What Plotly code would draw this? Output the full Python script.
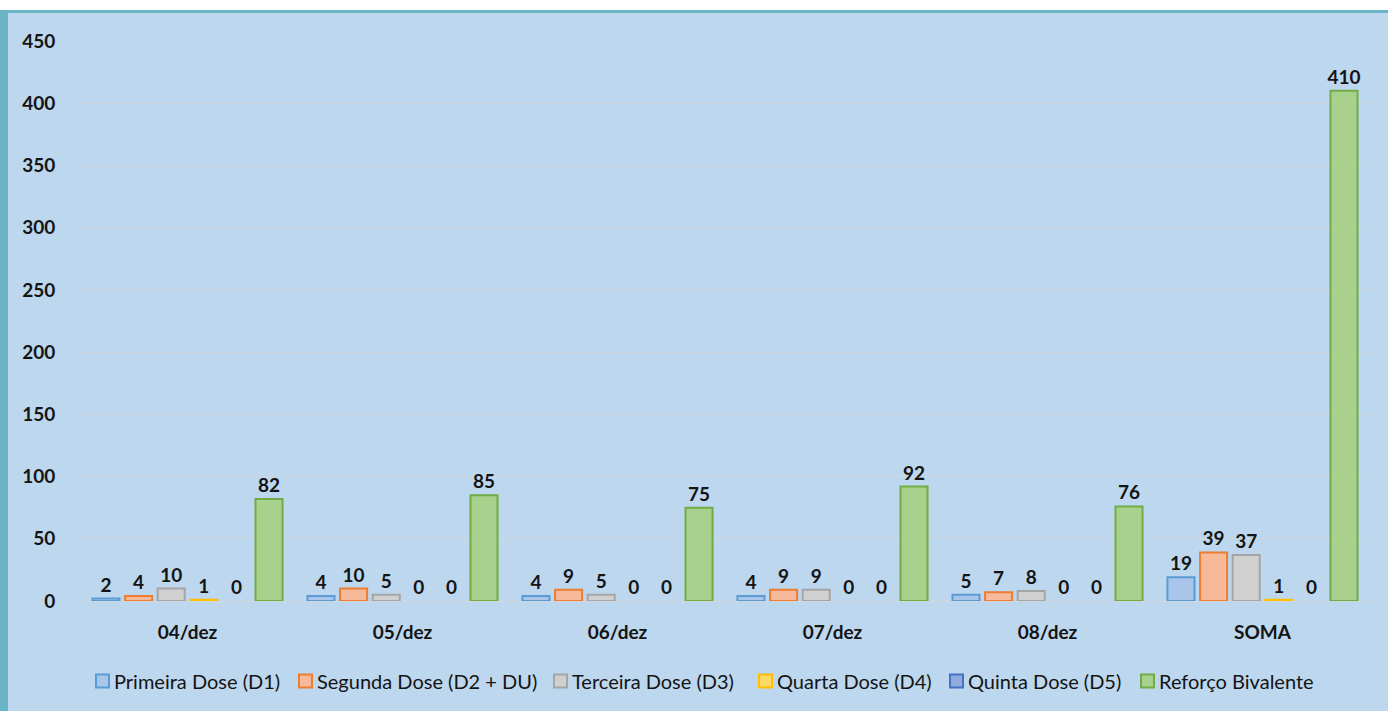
import plotly.graph_objects as go

categories = ["04/dez", "05/dez", "06/dez", "07/dez", "08/dez", "SOMA"]
series_names = ["Primeira Dose (D1)", "Segunda Dose (D2 + DU)", "Terceira Dose (D3)",
                "Quarta Dose (D4)", "Quinta Dose (D5)", "Reforço Bivalente"]
d1 = [2, 4, 4, 4, 5, 19]
d2 = [4, 10, 9, 9, 7, 39]
d3 = [10, 5, 5, 9, 8, 37]
d4 = [1, 0, 0, 0, 0, 1]
d5 = [0, 0, 0, 0, 0, 0]
bivalente = [82, 85, 75, 92, 76, 410]
y_ticks = [0, 50, 100, 150, 200, 250, 300, 350, 400, 450]

series_values = [d1, d2, d3, d4, d5, bivalente]
fills = ["#A9C6EA", "#F6B99A", "#D0D0D0", "#FFD966", "#8FAADC", "#A9D18E"]
lines = ["#5B9BD5", "#ED7D31", "#A5A5A5", "#FFC000", "#4472C4", "#70AD47"]

FONT = "Lato"
TXT = "#141414"
fig = go.Figure()
for name, vals, fc, lc in zip(series_names, series_values, fills, lines):
    fig.add_trace(go.Bar(
        x=categories, y=vals, name=name,
        marker=dict(color=fc, line=dict(color=lc, width=[2 if v > 0 else 0 for v in vals])),
        text=[str(v) for v in vals], textposition="outside", constraintext="none",
        textfont=dict(family=FONT, size=19, color=TXT, weight="bold"),
        cliponaxis=False, showlegend=False,
    ))

W, H = 1388, 711
ml, mr, mt, mb = 80, 18, 41, 110
pw, ph = W - ml - mr, H - mt - mb


def px_x(p):
    return (p - ml) / pw


def px_y(p):
    return (H - mb - p) / ph


teal = "#69B4C5"
shapes = [
    dict(type="rect", xref="paper", yref="paper", x0=px_x(-2), x1=px_x(W + 2), y0=px_y(10), y1=px_y(-2),
         fillcolor="white", line=dict(width=0), layer="above"),
    dict(type="rect", xref="paper", yref="paper", x0=px_x(-2), x1=px_x(W + 2), y0=px_y(13), y1=px_y(10),
         fillcolor=teal, line=dict(width=0), layer="above"),
    dict(type="rect", xref="paper", yref="paper", x0=px_x(-2), x1=px_x(8), y0=px_y(H + 2), y1=px_y(10),
         fillcolor=teal, line=dict(width=0), layer="above"),
]

# custom legend (layout positions in pixels)
legend_marker_x = [96, 299, 554, 759, 950, 1141]
legend_y = 681
msz = 13
annotations = []
for name, fc, lc, lx in zip(series_names, fills, lines, legend_marker_x):
    shapes.append(dict(type="rect", xref="paper", yref="paper",
                       x0=px_x(lx), x1=px_x(lx + msz),
                       y0=px_y(legend_y + msz / 2), y1=px_y(legend_y - msz / 2),
                       fillcolor=fc, line=dict(color=lc, width=2)))
    annotations.append(dict(xref="paper", yref="paper", x=px_x(lx + msz + 3), y=px_y(legend_y),
                            xanchor="left", yanchor="middle", showarrow=False, text=name,
                            font=dict(family=FONT, size=20, color=TXT)))

fig.update_layout(
    width=W, height=H,
    margin=dict(l=ml, r=mr, t=mt, b=mb),
    paper_bgcolor="#BDD7EE", plot_bgcolor="#BDD7EE",
    barmode="group", bargap=0.09, bargroupgap=0.17,
    font=dict(family=FONT, size=17, color=TXT),
    showlegend=False, hovermode=False,
    shapes=shapes, annotations=annotations,
    xaxis=dict(showgrid=False, showline=True, linecolor="#D0D6DC", linewidth=1,
               ticks="outside", ticklen=14, tickcolor="rgba(0,0,0,0)",
               tickfont=dict(family=FONT, size=19, color=TXT, weight="bold")),
    yaxis=dict(range=[0, 450], tickvals=y_ticks, showgrid=True, gridcolor="#D0D6DC", gridwidth=1,
               zeroline=False, showline=False,
               ticks="outside", ticklen=20, tickcolor="rgba(0,0,0,0)",
               tickfont=dict(family=FONT, size=19, color=TXT, weight="bold")),
)

fig.write_html("out.html", config={"displayModeBar": False},
               post_script="document.body.style.margin='0px';document.body.style.overflow='hidden';")
